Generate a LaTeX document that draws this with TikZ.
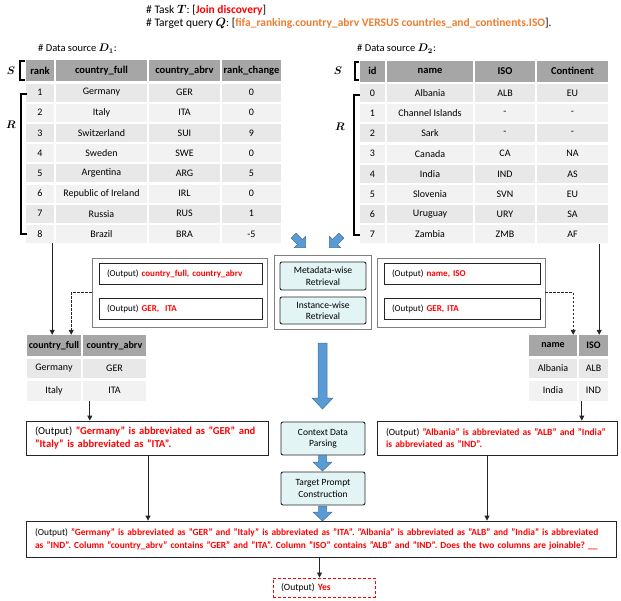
\documentclass[tikz,border=0pt]{standalone}
\usepackage{amsmath}
\usepackage{fontspec}
\setmainfont{Carlito}
\usetikzlibrary{arrows.meta,calc}
\definecolor{myred}{HTML}{FF0000}
\definecolor{myorange}{HTML}{ED7D31}
\definecolor{ablue}{HTML}{5B9BD5}
\definecolor{ablueb}{HTML}{41719C}
\definecolor{cyanfill}{HTML}{E3F4F4}
\definecolor{linec}{HTML}{262626}
\definecolor{contc}{HTML}{7F7F7F}
\newcommand\rb[1]{\textcolor{myred}{\bfseries #1}}
\newcommand\bmv[1]{$\boldsymbol{#1}$}
\frenchspacing
\begin{document}
\begin{tikzpicture}[x=1pt,y=-1pt,
  every node/.style={font=\fontsize{9}{11}\selectfont},
  cell/.style={inner sep=0pt, minimum height=18, draw=none, font=\fontsize{10}{12}\selectfont},
  hcell/.style={cell, fill=gray!70, minimum height=21, font=\fontsize{10.5}{12}\selectfont\bfseries},
  lhcell/.style={hcell, font=\fontsize{10}{12}\selectfont\bfseries},
  cont/.style={draw=contc, line width=0.9pt, inner sep=0pt},
  obox/.style={draw=linec, line width=0.8pt, fill=white, text width=#1, align=left, inner xsep=8pt, inner ysep=0pt, minimum height=21},
  tbox/.style={draw=linec, line width=0.8pt, fill=white, text width=#1, align=left, inner xsep=9pt, inner ysep=3pt},
  pbox/.style={draw=linec, line width=0.9pt, fill=cyanfill, rounded corners=2pt, align=center, inner sep=0pt, minimum width=86, font=\fontsize{9.6}{11.5}\selectfont},
  conn/.style={draw=linec, line width=0.8pt, -{Triangle[length=5pt,width=5pt]}},
  dconn/.style={conn, dash pattern=on 2.5pt off 1.5pt},
  barrow/.style={fill=ablue, draw=ablueb, line width=0.5pt},
  brk/.style={draw=black, line width=1.3pt},
  lbl/.style={font=\fontsize{10.5}{12}\selectfont, inner sep=0pt}
]
\useasboundingbox (0,0) rectangle (621,600);

% header
\node[anchor=west, inner sep=0pt, font=\fontsize{11.5}{13}\selectfont] (task) at (146,10) {\# Task \bmv{T}: [\textcolor{myred}{\bfseries Join discovery}]};
\node[anchor=west, inner sep=0pt, font=\fontsize{11.5}{13}\selectfont] (query) at (146,23.5) {\# Target query \bmv{Q}: [\textcolor{myorange}{\bfseries fifa\_ranking.country\_abrv VERSUS countries\_and\_continents.ISO}].};

% data source labels
\node[anchor=west, inner sep=0pt, font=\fontsize{10.5}{12}\selectfont] (d1) at (38,48.5) {\# Data source \bmv{D_1}:};
\node[anchor=west, inner sep=0pt, font=\fontsize{10.5}{12}\selectfont] (d2) at (357,48.5) {\# Data source \bmv{D_2}:};

% left table
\foreach \t/\x/\w [count=\c] in {rank/40/28, country\_full/101.5/91, country\_abrv/184.5/71, rank\_change/251.5/59}
  \node[hcell, minimum width=\w] (Lh\c) at (\x,70.5) {\t};
\foreach \va/\vb/\vc/\vd [count=\vr] in {1/Germany/GER/0, 2/Italy/ITA/0, 3/Switzerland/SUI/9, 4/Sweden/SWE/0, 5/Argentina/ARG/5, 6/Republic of Ireland/IRL/0, 7/Russia/RUS/1, 8/Brazil/BRA/-5}{
  \pgfmathsetmacro\yc{92.5+20.2*(\vr-1)}
  \pgfmathtruncatemacro\shd{10+8*mod(\vr,2)}
  \node[cell, fill=gray!\shd, minimum width=28] (L\vr-1) at (40,\yc) {\va};
  \node[cell, fill=gray!\shd, minimum width=91] (L\vr-2) at (101.5,\yc) {\vb};
  \node[cell, fill=gray!\shd, minimum width=71] (L\vr-3) at (184.5,\yc) {\vc};
  \node[cell, fill=gray!\shd, minimum width=59] (L\vr-4) at (251.5,\yc) {\vd};
}

% right table
\foreach \t/\x/\w [count=\c] in {id/372.5/25, name/430/86, ISO/505/60, Continent/572.5/71}
  \node[hcell, minimum width=\w] (Rh\c) at (\x,71) {\t};
\foreach \va/\vb/\vc/\vd [count=\vr] in {0/Albania/ALB/EU, 1/Channel Islands/-/-, 2/Sark/-/-, 3/Canada/CA/NA, 4/India/IND/AS, 5/Slovenia/SVN/EU, 6/Uruguay/URY/SA, 7/Zambia/ZMB/AF}{
  \pgfmathsetmacro\yc{93+20.2*(\vr-1)}
  \pgfmathtruncatemacro\shd{10+8*mod(\vr,2)}
  \node[cell, fill=gray!\shd, minimum width=25] (R\vr-1) at (372.5,\yc) {\va};
  \node[cell, fill=gray!\shd, minimum width=86] (R\vr-2) at (430,\yc) {\vb};
  \node[cell, fill=gray!\shd, minimum width=60] (R\vr-3) at (505,\yc) {\vc};
  \node[cell, fill=gray!\shd, minimum width=71] (R\vr-4) at (572.5,\yc) {\vd};
}

% brackets and labels
\draw[brk] (25,61) -- (20,61) -- (20,80) -- (25,80);
\node[lbl] (sL) at (11,70.5) {\bmv{S}};
\draw[brk] (27,94) -- (21,94) -- (21,234) -- (27,234);
\node[lbl] (rL) at (11,125) {\bmv{R}};
\draw[brk] (359,62) -- (355,62) -- (355,80) -- (359,80);
\node[lbl] (sR) at (338,71) {\bmv{S}};
\draw[brk] (360,95) -- (354,95) -- (354,235) -- (360,235);
\node[lbl] (rR) at (340,127) {\bmv{R}};

% diagonal blue arrows
\draw[barrow, shift={(300,242)}, rotate=45] (-3.5,-9) -- (3.5,-9) -- (3.5,0) -- (8,0) -- (0,8) -- (-8,0) -- (-3.5,0) -- cycle;
\draw[barrow, shift={(335,242)}, rotate=-45] (-3.5,-9) -- (3.5,-9) -- (3.5,0) -- (8,0) -- (0,8) -- (-8,0) -- (-3.5,0) -- cycle;

% middle retrieval block
\node[cont, minimum width=97, minimum height=74] (mid) at (322.5,292) {};
\node[pbox, minimum height=28] (meta) at (323,276) {Metadata-wise\\Retrieval};
\node[pbox, minimum height=27] (inst) at (323,310.5) {Instance-wise\\Retrieval};

% left outputs
\node[cont, minimum width=175, minimum height=69] (lbox) at (179.5,292.5) {};
\node[obox=147] (lo1) at (180.5,273.5) {(Output) \rb{country\_full, country\_abrv}};
\node[obox=147] (lo2) at (180.5,308.5) {(Output) \rb{GER,\ \ ITA}};

% right outputs
\node[cont, minimum width=168, minimum height=69] (rbox) at (461,292.5) {};
\node[obox=140] (ro1) at (462,273.5) {(Output) \rb{name, ISO}};
\node[obox=140] (ro2) at (462,308.5) {(Output) \rb{GER, ITA}};

% lower-left table
\node[lhcell, minimum width=54] (LLh1) at (54,345.5) {country\_full};
\node[lhcell, minimum width=63] (LLh2) at (114.5,345.5) {country\_abrv};
\node[cell, fill=gray!18, minimum width=54, minimum height=19] (LL1-1) at (54,368.5) {Germany};
\node[cell, fill=gray!18, minimum width=63, minimum height=19] (LL1-2) at (114.5,368.5) {GER};
\node[cell, fill=gray!10, minimum width=54, minimum height=20] (LL2-1) at (54,390.5) {Italy};
\node[cell, fill=gray!10, minimum width=63, minimum height=20] (LL2-2) at (114.5,390.5) {ITA};

% lower-right table
\node[lhcell, minimum width=48] (RRh1) at (553,345.5) {name};
\node[lhcell, minimum width=29] (RRh2) at (593.5,345.5) {ISO};
\node[cell, fill=gray!18, minimum width=48, minimum height=19] (RR1-1) at (553,368.5) {Albania};
\node[cell, fill=gray!18, minimum width=29, minimum height=19] (RR1-2) at (593.5,368.5) {ALB};
\node[cell, fill=gray!10, minimum width=48, minimum height=20] (RR2-1) at (553,390.5) {India};
\node[cell, fill=gray!10, minimum width=29, minimum height=20] (RR2-2) at (593.5,390.5) {IND};

% big blue arrow
\draw[barrow] (318,343) -- (327,343) -- (327,398) -- (333,398) -- (322.5,409) -- (312,398) -- (318,398) -- cycle;

% text boxes
\node[tbox=224, minimum height=34, font=\fontsize{10.6}{12.5}\selectfont] (ltext) at (147,438) {(Output) \rb{"Germany" is abbreviated as "GER" and}\\\rb{"Italy" is abbreviated as "ITA".}};
\node[tbox=222, minimum height=34, font=\fontsize{9.5}{12}\selectfont] (rtext) at (497,438) {(Output) \rb{"Albania" is abbreviated as "ALB" and "India"}\\\rb{is abbreviated as "IND".}};
\node[pbox, minimum width=84, minimum height=33, font=\fontsize{9.5}{11.5}\selectfont] (ctx) at (323,438.5) {Context Data\\Parsing};
\node[pbox, minimum width=84, minimum height=33, font=\fontsize{9.5}{11.5}\selectfont] (tgt) at (323,488.5) {Target Prompt\\Construction};

% small blue arrows
\draw[barrow] (318.5,455) -- (326.5,455) -- (326.5,462) -- (332,462) -- (322.5,471) -- (313,462) -- (318.5,462) -- cycle;
\draw[barrow] (318.5,506) -- (326.5,506) -- (326.5,512) -- (332,512) -- (322.5,521) -- (313,512) -- (318.5,512) -- cycle;

% final prompt and answer
\node[tbox=572, minimum height=36, font=\fontsize{9.4}{13}\selectfont] (final) at (321,539) {\mbox{(Output) \rb{"Germany" is abbreviated as "GER" and "Italy" is abbreviated as "ITA". "Albania" is abbreviated as "ALB" and "India" is abbreviated}}\\\mbox{\rb{as "IND". Column "country\_abrv" contains "GER" and "ITA". Column "ISO" contains "ALB" and "IND". Does the two columns are joinable? \_\_}}};
\node[draw=myred, dash pattern=on 3pt off 2pt, line width=0.9pt, minimum width=102, minimum height=19, text width=86, inner xsep=8pt, inner ysep=0pt, align=left, font=\fontsize{9.6}{11}\selectfont] (yes) at (324,587.5) {(Output) \rb{Yes}};

% connectors
\draw[conn] ([xshift=-2pt]L8-1.south east) -- ([xshift=-2pt]L8-1.south east |- LLh1.north);
\draw[dconn] (lbox.west) -| ([xshift=-10pt]LLh1.north east);
\draw[conn] ([xshift=-9pt]R8-4.south east) -- ([xshift=-9pt]R8-4.south east |- RRh2.north);
\draw[dconn] (rbox.east) -| ([xshift=-4pt]RRh1.north east);
\draw[conn] ([xshift=7pt]LL2-2.south west) -- ([xshift=7pt]LL2-2.south west |- ltext.north);
\draw[conn] ([xshift=3pt]RR2-2.south west) -- ([xshift=3pt]RR2-2.south west |- rtext.north);
\draw[conn] ([xshift=1pt]ltext.south) -- ([xshift=1pt]ltext.south |- final.north);
\draw[conn] ([xshift=-10pt]rtext.south) -- ([xshift=-10pt]rtext.south |- final.north);
\draw[conn] ([xshift=-1.5pt]final.south) -- ([xshift=-1.5pt]final.south |- yes.north);
\end{tikzpicture}
\end{document}
